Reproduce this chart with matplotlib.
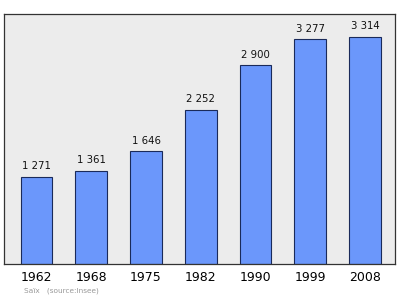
import matplotlib.pyplot as plt

years = ["1962", "1968", "1975", "1982", "1990", "1999", "2008"]
population = [1271, 1361, 1646, 2252, 2900, 3277, 3314]
value_labels = ["1 271", "1 361", "1 646", "2 252", "2 900", "3 277", "3 314"]

fig = plt.figure(figsize=(4.0, 2.99), dpi=100)
ax = fig.add_axes([4 / 400, 1 - 264 / 299, 391 / 400, 250 / 299])
ax.set_facecolor("#ececec")

x = range(len(years))
bars = ax.bar(x, population, width=0.58, color="#6b97fb", edgecolor="#1a2a5a", linewidth=0.8, zorder=2)
for bar, lab in zip(bars, value_labels):
    ax.text(bar.get_x() + bar.get_width() / 2, bar.get_height() + 80, lab,
            ha="center", va="bottom", fontsize=7.3, color="#111111")

ax.set_xlim(-0.594, 6.548)
ax.set_ylim(0, 3645)
ax.set_xticks(list(x))
ax.set_xticklabels(years, fontsize=9)
ax.tick_params(axis="x", length=0, pad=5)
ax.set_yticks([])
for s in ax.spines.values():
    s.set_color("#333333")
    s.set_linewidth(0.9)

fig.text(24 / 400, 1 - 291 / 299, "Saïx   (source:Insee)", fontsize=5.3, color="#999999", va="center")

fig.savefig("out.png", dpi=100)
